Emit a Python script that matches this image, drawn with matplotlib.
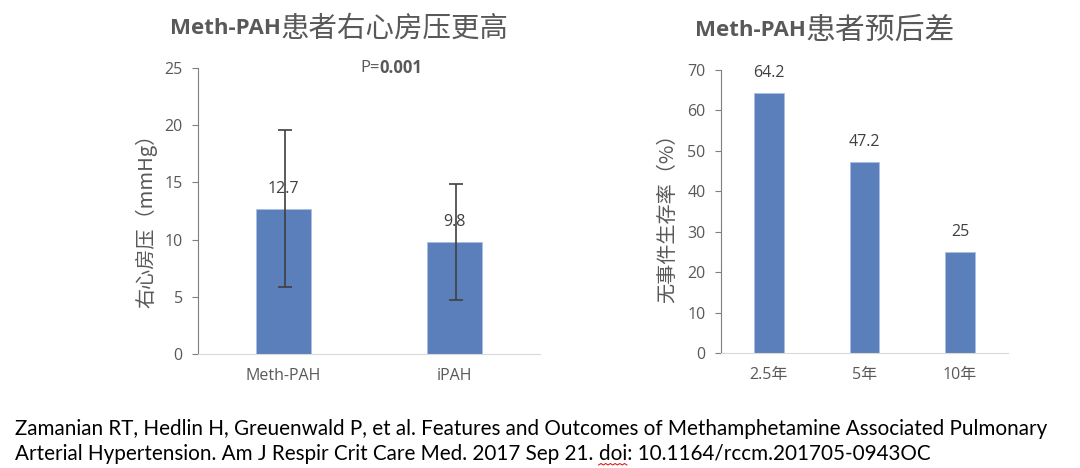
import matplotlib.pyplot as plt
import numpy as np

plt.rcParams['font.family'] = ['Open Sans', 'Noto Sans CJK SC', 'DejaVu Sans']

# 左图数据
groups = ['Meth-PAH', 'iPAH']
rap = [12.7, 9.8]
rap_err = [6.85, 5.1]

# 右图数据
years = ['2.5年', '5年', '10年']
survival = [64.2, 47.2, 25]

bar_color = '#5a7fba'
txt_gray = '#595959'
W, H = 1080, 468

fig = plt.figure(figsize=(10.8, 4.68), dpi=100)

def style_axes(ax):
    for s in ['top', 'right']:
        ax.spines[s].set_visible(False)
    ax.spines['left'].set_color('#7f7f7f')
    ax.spines['bottom'].set_color('#d9d9d9')
    ax.tick_params(axis='y', colors=txt_gray, labelsize=11.5, length=4, color='#7f7f7f', pad=7)
    ax.tick_params(axis='x', colors=txt_gray, labelsize=11.5, length=0, pad=10)

# 左图
ax1 = fig.add_axes([198 / W, 1 - 354 / H, 342 / W, 286 / H])
x1 = np.arange(len(groups))
ax1.bar(x1, rap, width=0.32, color=bar_color, edgecolor='#a9c0e0', linewidth=0.6)
ax1.errorbar(x1 + 0.01, rap, yerr=rap_err, fmt='none', ecolor='#404040',
             elinewidth=1.2, capsize=5, capthick=1.2)
ax1.set_xlim(-0.5, 1.5)
ax1.set_ylim(0, 25)
ax1.set_yticks(range(0, 26, 5))
ax1.set_xticks(x1)
ax1.set_xticklabels(groups)
style_axes(ax1)
for xi, v in zip(x1, rap):
    ax1.annotate(f'{v}', (xi, v), xytext=(0, 14), textcoords='offset points',
                 ha='center', va='center', fontsize=11.5, color='#404040')
p1 = fig.text(360 / W, 1 - 68 / H, 'P=', fontsize=12, color=txt_gray, ha='left', va='center')
fig.canvas.draw()
ax1.annotate('0.001', xy=(1, 0.5), xycoords=p1, va='center', ha='left',
             fontsize=12, color=txt_gray, fontweight='bold', annotation_clip=False)

# 右图
ax2 = fig.add_axes([721 / W, 1 - 353 / H, 287 / W, 283 / H])
x2 = np.arange(len(years))
ax2.bar(x2, survival, width=0.31, color=bar_color, edgecolor='#a9c0e0', linewidth=0.6)
ax2.set_xlim(-0.5, 2.5)
ax2.set_ylim(0, 70)
ax2.set_yticks(range(0, 71, 10))
ax2.set_xticks(x2)
ax2.set_xticklabels(years)
style_axes(ax2)
for xi, v in zip(x2, survival):
    ax2.annotate(f'{v}', (xi, v), xytext=(0, 14.5), textcoords='offset points',
                 ha='center', va='center', fontsize=11.5, color='#404040')

# 纵轴标题
fig.text(146 / W, 1 - 216 / H, '右心房压（mmHg）', rotation=90, fontsize=14.5, color=txt_gray,
         ha='center', va='center', family=['Noto Sans CJK SC'])
fig.text(668 / W, 1 - 213 / H, '无事件生存率（%）', rotation=90, fontsize=14.5, color=txt_gray,
         ha='center', va='center', family=['Noto Sans CJK SC'])

# 标题（英文加粗，中文常规）
t1 = fig.text(170 / W, 1 - 29 / H, 'Meth-PAH', fontsize=16, fontweight='bold',
              color=txt_gray, ha='left', va='center')
fig.canvas.draw()
ax1.annotate('患者右心房压更高', xy=(1, 0.5), xycoords=t1, va='center', ha='left',
             fontsize=20.5, color=txt_gray, annotation_clip=False,
             family=['Noto Sans CJK SC'])
t2 = fig.text(695 / W, 1 - 30 / H, 'Meth-PAH', fontsize=16, fontweight='bold',
              color=txt_gray, ha='left', va='center')
fig.canvas.draw()
ax2.annotate('患者预后差', xy=(1, 0.5), xycoords=t2, va='center', ha='left',
             fontsize=21.5, color=txt_gray, annotation_clip=False,
             family=['Noto Sans CJK SC'])

# 引用
cite1 = 'Zamanian RT, Hedlin H, Greuenwald P, et al. Features and Outcomes of Methamphetamine Associated Pulmonary'
cite2a = 'Arterial Hypertension. Am J Respir Crit Care Med. 2017 Sep 21. '
cite2b = 'doi: 10.1164/rccm.201705-0943OC'
csize = 14.85
cfont = dict(fontsize=csize, color='black', ha='left', va='center', family=['Lato', 'DejaVu Sans'])
fig.text(15 / W, 1 - 429 / H, cite1, **cfont)
c2 = fig.text(15 / W, 1 - 454 / H, cite2a, **cfont)
fig.canvas.draw()
c3 = ax1.annotate(cite2b, xy=(1, 0.5), xycoords=c2, annotation_clip=False, **cfont)
fig.canvas.draw()
r = fig.canvas.get_renderer()
bb = c3.get_window_extent(r)
# 拼写检查红色波浪线（doi 下方）
doi_w = fig.text(0, 0, 'doi', fontsize=csize, family=['Lato', 'DejaVu Sans'], alpha=0)
dw = doi_w.get_window_extent(r).width
wx = np.linspace(bb.x0, bb.x0 + dw, 13)
wy = (H - 465) + np.array([0, 1.5] * 7)[:13]
fig.add_artist(plt.Line2D(wx / W, wy / H, color='#e02020', linewidth=0.8))

fig.savefig('out.png', dpi=100)
